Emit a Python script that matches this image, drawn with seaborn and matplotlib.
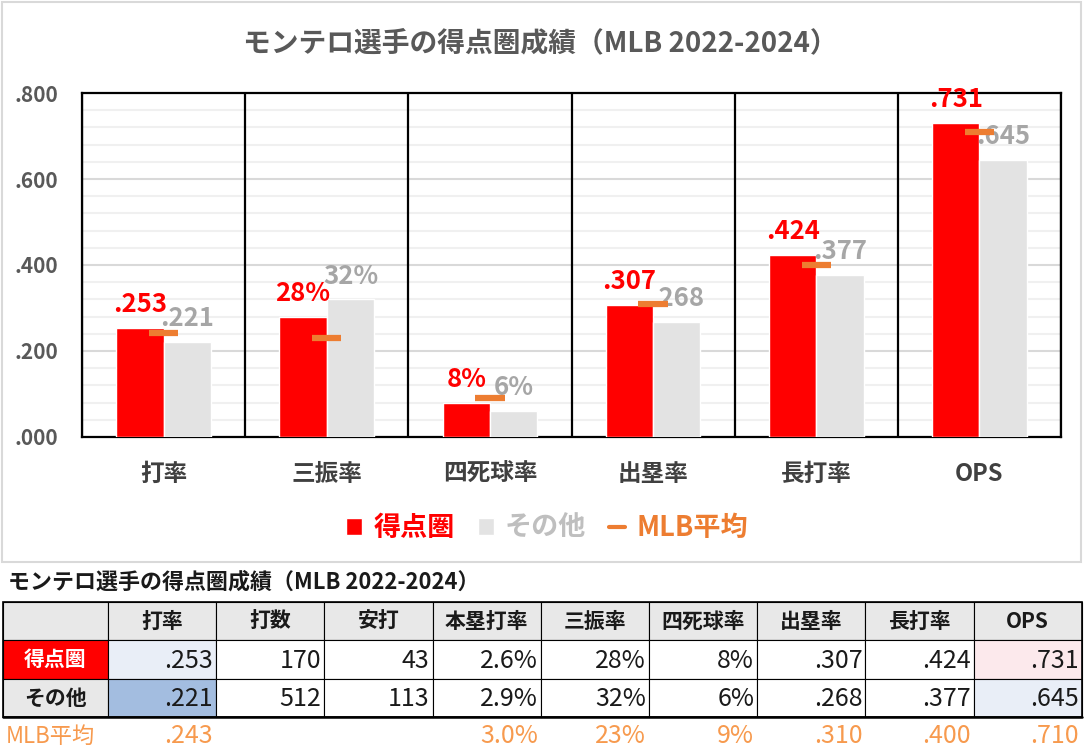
import numpy as np
import pandas as pd
import seaborn as sns
import matplotlib.pyplot as plt
from matplotlib.patches import Rectangle, Patch
from matplotlib.lines import Line2D

# chart data
categories = ['打率', '三振率', '四死球率', '出塁率', '長打率', 'OPS']
risp = [0.253, 0.28, 0.08, 0.307, 0.424, 0.731]
other = [0.221, 0.32, 0.06, 0.268, 0.377, 0.645]
mlb_avg = [0.243, 0.23, 0.09, 0.310, 0.400, 0.710]
risp_labels = ['.253', '28%', '8%', '.307', '.424', '.731']
other_labels = ['.221', '32%', '6%', '.268', '.377', '.645']
yticks = [0.0, 0.2, 0.4, 0.6, 0.8]
ytick_labels = ['.000', '.200', '.400', '.600', '.800']

# table data
table_cols = ['打率', '打数', '安打', '本塁打率', '三振率', '四死球率', '出塁率', '長打率', 'OPS']
table_risp = ['.253', '170', '43', '2.6%', '28%', '8%', '.307', '.424', '.731']
table_other = ['.221', '512', '113', '2.9%', '32%', '6%', '.268', '.377', '.645']
table_mlb = ['.243', '', '', '3.0%', '23%', '9%', '.310', '.400', '.710']

title = 'モンテロ選手の得点圏成績（MLB 2022-2024）'

RED = '#FF0000'
GRAY = '#E3E3E3'
ORANGE = '#ED7D31'

sns.set_theme(style='white')
plt.rcParams['font.family'] = ['Noto Sans CJK JP', 'DejaVu Sans']

W, H = 1085, 747
fig = plt.figure(figsize=(W / 100, H / 100), dpi=100)


def box(x0, y0, x1, y1):
    return [x0 / W, 1 - y1 / H, (x1 - x0) / W, (y1 - y0) / H]


# chart frame
fig.add_artist(Rectangle((2 / W, 1 - 562 / H), 1079 / W, 560 / H, transform=fig.transFigure,
                         fill=False, edgecolor='#D9D9D9', lw=1.5))
fig.text(540 / W, 1 - 43 / H, title, ha='center', va='center', fontsize=20,
         fontweight='bold', color='#595959')

ax = fig.add_axes(box(82, 93, 1061, 437))
df = pd.DataFrame({
    'cat': categories * 2,
    'val': risp + other,
    'grp': ['得点圏'] * len(categories) + ['その他'] * len(categories),
})
sns.barplot(data=df, x='cat', y='val', hue='grp', palette={'得点圏': RED, 'その他': GRAY},
            width=0.58, gap=0, saturation=1, legend=False, ax=ax, zorder=3)

xs = np.arange(len(categories))
ax.hlines(mlb_avg, xs - 0.09, xs + 0.09, color=ORANGE, lw=4.5, zorder=5)

ax.bar_label(ax.containers[0], labels=risp_labels, color=RED, fontsize=18.5,
             fontweight='bold', padding=7)
ax.bar_label(ax.containers[1], labels=other_labels, color='#A6A6A6', fontsize=18.5,
             fontweight='bold', padding=7)

ax.set_xlim(-0.5, len(categories) - 0.5)
ax.set_ylim(0, 0.8)
ax.set_yticks(yticks)
ax.set_yticklabels(ytick_labels)
ax.set_yticks(np.arange(0, 0.801, 0.04), minor=True)
ax.grid(which='minor', axis='y', color='#F0F0F0', lw=1.5, zorder=0)
ax.grid(which='major', axis='y', color='#D9D9D9', lw=1.5, zorder=0)
ax.set_axisbelow(True)
ax.vlines(np.arange(-0.5, len(categories), 1), 0, 0.8, color='black', lw=1.6, zorder=4)
for s in ax.spines.values():
    s.set_color('black')
    s.set_linewidth(1.6)
ax.tick_params(axis='y', which='both', length=0)
ax.set_xlabel('')
ax.set_ylabel('')
ax.tick_params(axis='y', length=0, pad=17, labelsize=15, labelcolor='#595959')
ax.tick_params(axis='x', length=0, pad=18, labelsize=17, labelcolor='#404040')
for lab in ax.get_yticklabels() + ax.get_xticklabels():
    lab.set_fontweight('bold')

handles = [Patch(facecolor=RED), Patch(facecolor=GRAY),
           Line2D([0], [0], color=ORANGE, lw=3)]
leg = fig.legend(handles, ['得点圏', 'その他', 'MLB平均'], loc='center',
                 bbox_to_anchor=(547 / W, 1 - 528 / H), ncol=3, frameon=False,
                 prop={'size': 19.5, 'weight': 'bold'}, handlelength=0.6, handleheight=0.6,
                 handletextpad=0.4, columnspacing=0.85)
for t, c in zip(leg.get_texts(), [RED, '#BFBFBF', ORANGE]):
    t.set_color(c)

# table
fig.text(8 / W, 1 - 582 / H, title, ha='left', va='center', fontsize=15.8,
         fontweight='bold', color='#1a1a1a')

tax = fig.add_axes([0, 0, 1, 1])
tax.set_xlim(0, W)
tax.set_ylim(H, 0)
tax.axis('off')

x_edges = [3, 108] + [108 + 108.2 * k for k in range(1, len(table_cols) + 1)]
y_edges = [602, 640, 679, 717]

fills = {
    (0, 0): '#E9EEF7', (1, 0): '#A3BDE0',
    (0, 8): '#FCE9EC', (1, 8): '#E9EEF7',
}
num_font = ['Liberation Sans Narrow', 'Noto Sans CJK JP', 'DejaVu Sans']

# header row
for j in range(len(table_cols) + 1):
    tax.add_patch(Rectangle((x_edges[j], y_edges[0]), x_edges[j + 1] - x_edges[j],
                            y_edges[1] - y_edges[0], facecolor='#E8E8E8',
                            edgecolor='black', lw=0.8))
for j, c in enumerate(table_cols):
    tax.text((x_edges[j + 1] + x_edges[j + 2]) / 2, (y_edges[0] + y_edges[1]) / 2, c,
             ha='center', va='center', fontsize=15, fontweight='bold', color='#1a1a1a')

rows = [('得点圏', table_risp, RED, 'white'), ('その他', table_other, '#E8E8E8', '#1a1a1a')]
for i, (name, vals, fc, tc) in enumerate(rows):
    y0, y1 = y_edges[i + 1], y_edges[i + 2]
    tax.add_patch(Rectangle((x_edges[0], y0), x_edges[1] - x_edges[0], y1 - y0,
                            facecolor=fc, edgecolor='black', lw=0.8))
    tax.text((x_edges[0] + x_edges[1]) / 2, (y0 + y1) / 2, name, ha='center', va='center',
             fontsize=15, fontweight='bold', color=tc)
    for j, v in enumerate(vals):
        tax.add_patch(Rectangle((x_edges[j + 1], y0), x_edges[j + 2] - x_edges[j + 1], y1 - y0,
                                facecolor=fills.get((i, j), 'white'), edgecolor='black', lw=0.8))
        tax.text(x_edges[j + 2] - 3, (y0 + y1) / 2 + 1, v, ha='right', va='center',
                 fontsize=18, family=num_font, color='#1a1a1a')

tax.plot([x_edges[0], x_edges[-1]], [y_edges[-1], y_edges[-1]], color='black', lw=1.8)
tax.add_patch(Rectangle((x_edges[0], y_edges[0]), x_edges[-1] - x_edges[0],
                        y_edges[-1] - y_edges[0], fill=False, edgecolor='black', lw=1.2))

MLB_C = '#F79A4E'
tax.text(x_edges[0] + 3, 736, 'MLB平均', ha='left', va='center', fontsize=16,
         color=MLB_C, family=num_font)
for j, v in enumerate(table_mlb):
    tax.text(x_edges[j + 2] - 3, 736, v, ha='right', va='center', fontsize=18,
             family=num_font, color=MLB_C)

fig.savefig('out.png', dpi=100)
